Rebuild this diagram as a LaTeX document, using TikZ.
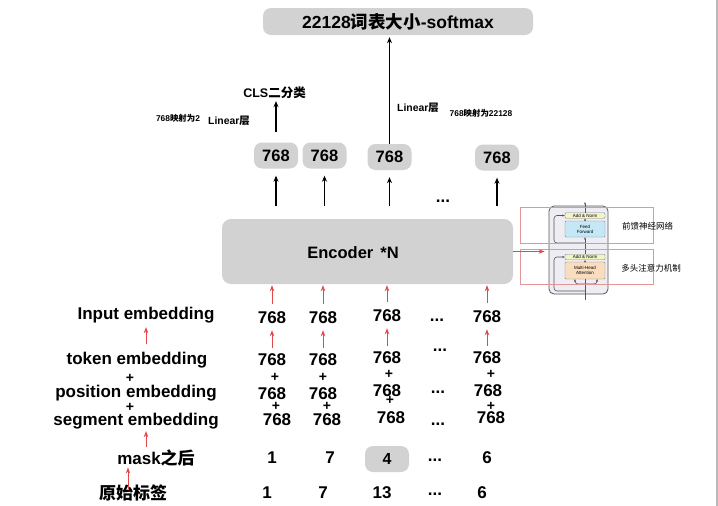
\documentclass[tikz,border=0pt]{standalone}
\usepackage{fontspec}
\setmainfont{Liberation Sans}
\newfontfamily\cjk{Noto Sans CJK SC}
\usetikzlibrary{arrows.meta,positioning,calc}
\definecolor{boxgray}{RGB}{210,210,210}
\definecolor{redar}{RGB}{226,72,72}
\definecolor{pinkln}{RGB}{228,150,150}
\definecolor{blkline}{RGB}{85,85,90}
\definecolor{blkfill}{RGB}{238,237,243}
\definecolor{normc}{RGB}{240,245,196}
\definecolor{ffc}{RGB}{196,232,246}
\definecolor{attc}{RGB}{250,220,190}
\newcommand{\zh}[1]{{\cjk #1}}
\tikzset{
  gbox/.style={fill=boxgray,rounded corners=8pt,inner sep=0pt,
    font=\fontsize{16.5}{18}\selectfont\bfseries},
  num/.style={inner sep=0pt,font=\fontsize{17}{19}\selectfont\bfseries},
  pls/.style={inner sep=0pt,font=\fontsize{14}{16}\selectfont\bfseries},
  lbl/.style={inner sep=0pt,font=\fontsize{17}{19}\selectfont\bfseries},
  small/.style={inner sep=0pt,font=\fontsize{8.4}{10}\selectfont\bfseries},
  side/.style={inner sep=0pt,font=\fontsize{8.5}{10}\selectfont},
  ar/.style={-{Stealth[length=6pt,width=5pt]},line width=1.1pt},
  rar/.style={redar,-{Stealth[length=6pt,width=4.5pt]},line width=0.9pt},
  mini/.style={draw=blkline!70,line width=0.4pt,rounded corners=1pt,inner sep=0pt,
    font=\fontsize{4.5}{5}\selectfont,align=center,minimum width=40pt},
  res/.style={blkline,line width=0.6pt,rounded corners=3pt,-{Stealth[length=2.5pt,width=2pt]}},
}
\begin{document}
\begin{tikzpicture}[x=1pt,y=-1pt]
  \fill[white] (0,0) rectangle (718,506);
  \useasboundingbox (0,0) rectangle (718,506);
  \draw[gray!55,line width=2pt] (716.5,0) -- (716.5,506);

  % top part
  \node[gbox,minimum width=270pt,minimum height=27pt,font=\fontsize{17.5}{19}\selectfont\bfseries] (top) at (398,21.5) {22128\zh{词表大小}-softmax};
  \foreach \i/\x/\y in {1/276/155.5,2/324.5/155.5,3/389.5/157,4/497/157.5} {
    \node[gbox,minimum width=44pt,minimum height=26pt] (o\i) at (\x,\y) {768};
  }
  \node[inner sep=0pt,font=\fontsize{12.5}{14}\selectfont\bfseries] (cls) at (274.5,93) {CLS\zh{二分类}};
  \node[small] (mapa) at (178,118) {768\zh{映射为}2};
  \node[inner sep=0pt,font=\fontsize{10.4}{12}\selectfont\bfseries] (lina) at (229,121) {Linear\zh{层}};
  \node[inner sep=0pt,font=\fontsize{10.4}{12}\selectfont\bfseries] (linb) at (418,108) {Linear\zh{层}};
  \node[small] (mapb) at (481,113) {768\zh{映射为}22128};
  \draw[ar,shorten >=2pt] (o3.north) -- (o3.north |- top.south);
  \draw[ar,shorten <=10pt,shorten >=2pt] (o1.north) -- (o1.north |- cls.south);

  % encoder
  \node[fill=boxgray,rounded corners=9pt,minimum width=291pt,minimum height=65pt] (enc) at (367.5,251.5) {};
  \node[inner sep=0pt,font=\fontsize{16.5}{18}\selectfont\bfseries] (enctxt) at (353,253) {Encoder\hspace{7pt}*N};
  \foreach \i in {1,...,4} {
    \draw[ar,shorten <=13pt,shorten >=7pt] (o\i.south |- enc.north) -- (o\i.south);
  }
  \node[num] (odots) at (443,201) {...};

  % transformer block
  \node[draw=blkline,fill=blkfill,rounded corners=5pt,line width=0.8pt,
    minimum width=59pt,minimum height=88pt] (blk) at (578.5,250) {};
  \node[mini,fill=normc,minimum height=5.5pt] (an2) at (585,215.5) {Add \& Norm};
  \node[mini,fill=ffc,minimum height=16pt] (ff) at (585,229) {Feed\\Forward};
  \node[mini,fill=normc,minimum height=5.5pt] (an1) at (585,257) {Add \& Norm};
  \node[mini,fill=attc,minimum height=17pt] (mha) at (585,270.5) {Multi-Head\\Attention};
  \coordinate (bin) at (585,300);
  \coordinate (bout) at (585,202);
  \draw[blkline,line width=0.6pt] (bin) -- (mha.south);
  \draw[res] (mha.north) -- (an1.south);
  \draw[res] (an1.north) -- (ff.south);
  \draw[res] (ff.north) -- (an2.south);
  \draw[res] (an2.north) -- (bout);
  \draw[res] (585,291) -- (554,291) -- (554,257) -- (an1.west);
  \draw[res] (585,243) -- (554,243) -- (554,215.5) -- (an2.west);
  \draw[res] (585,284) -- (575,284) -- (575,279) -- (mha.south -| 575,0);
  \draw[res] (585,284) -- (597,284) -- (597,279) -- (mha.south -| 597,0);
  \draw[pinkln,line width=0.7pt] (520,207) rectangle (653,243);
  \draw[pinkln,line width=0.7pt] (520,249) rectangle (653,284);
  \node[side] (ffl) at (647.5,226) {\zh{前馈神经网络}};
  \node[side] (mhal) at (651,268) {\zh{多头注意力机制}};
  \draw[rar,shorten >=4pt] (enc.east) -- (enc.east -| blk.west);

  % left labels
  \node[lbl] (linp) at (146,315) {Input embedding};
  \node[lbl] (ltok) at (137,360) {token embedding};
  \node[pls] (lp1) at (130,378) {+};
  \node[lbl] (lpos) at (136,393) {position embedding};
  \node[pls] (lp2) at (130,407) {+};
  \node[lbl] (lseg) at (136,421) {segment embedding};
  \node[lbl] (lmsk) at (156,458) {mask\zh{之后}};
  \node[lbl] (lraw) at (133,493) {\zh{原始标签}};
  \draw[rar,shorten <=8pt,shorten >=4pt] (linp.south |- ltok.north) -- (linp.south);
  \draw[rar,shorten <=3pt,shorten >=2pt] ([xshift=-10pt]lmsk.north) -- ([xshift=-10pt]lmsk.north |- lseg.south);
  \draw[rar,shorten <=-4pt,shorten >=1pt] ([xshift=-5pt]lraw.north) -- ([xshift=-5pt]lraw.north |- lmsk.south);

  % columns
  \foreach \i/\x/\y in {1/272/318,2/323/318,3/387/316,4/487/317} {
    \node[num] (inp\i) at (\x,\y) {768};
  }
  \foreach \i/\x/\y in {1/272/360,2/323/360,3/387/358,4/487/358} {
    \node[num] (tok\i) at (\x,\y) {768};
  }
  \foreach \i/\x/\y in {1/275/377.5,2/323/377.5,3/389/374,4/491/374} {
    \node[pls] (pa\i) at (\x,\y) {+};
  }
  \foreach \i/\x/\y in {1/272/394,2/323/394,3/387/391,4/488/391} {
    \node[num] (pos\i) at (\x,\y) {768};
  }
  \foreach \i/\x/\y in {1/276/406.5,2/327/406.5,3/390/400,4/491/406} {
    \node[pls] (pb\i) at (\x,\y) {+};
  }
  \foreach \i/\x/\y in {1/277/419.5,2/327/419.5,3/391/418,4/491/418} {
    \node[num] (seg\i) at (\x,\y) {768};
  }
  \foreach \i/\x/\y in {1/272/458,2/330/458,4/487/458} {
    \node[num] (msk\i) at (\x,\y) {\ifnum\i=1 1\else\ifnum\i=2 7\else 6\fi\fi};
  }
  \node[gbox,minimum width=44pt,minimum height=26pt,font=\fontsize{16}{18}\selectfont\bfseries] (msk3) at (387,459) {4};
  \foreach \i/\x/\v in {1/267/1,2/323/7,3/382/13,4/482/6} {
    \node[num] (raw\i) at (\x,493) {\v};
  }
  \foreach \n/\x/\y in {d1/437/320,d2/440/350,d3/438/392,d4/438/424,d5/435/460,d6/435/494} {
    \node[num] (\n) at (\x,\y) {...};
  }
  \foreach \i in {1,...,4} {
    \draw[rar,shorten <=8pt,shorten >=1pt] (inp\i.north) -- (inp\i.north |- enc.south);
    \draw[rar,shorten <=6pt,shorten >=6pt] (tok\i.north) -- (tok\i.north |- inp\i.south);
  }
\end{tikzpicture}
\end{document}
